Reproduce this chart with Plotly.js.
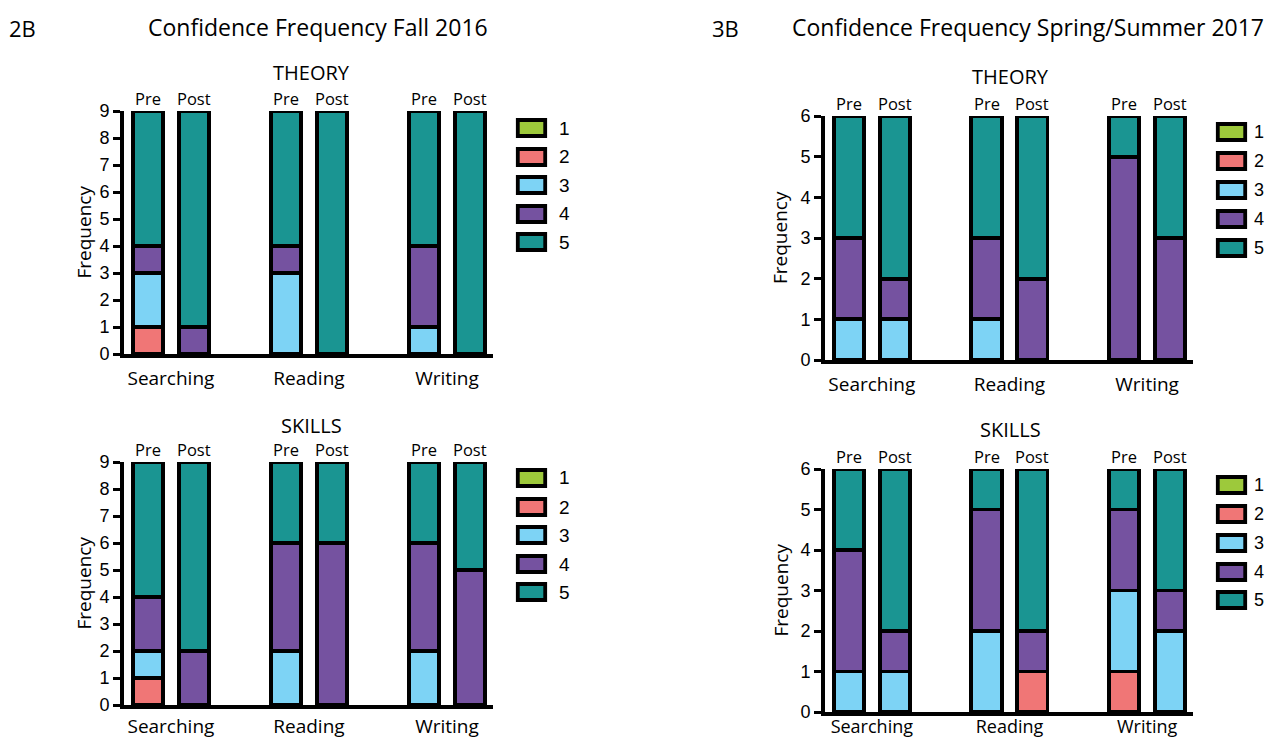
<!DOCTYPE html>
<html>
<head>
<meta charset="utf-8">
<script src="https://cdn.plot.ly/plotly-3.0.1.min.js"></script>
<style>html,body{margin:0;padding:0;background:#fff;}#chart{width:1267px;height:740px;}</style>
</head>
<body>
<div id="chart"></div>
<script>
// ---------- DATA ----------
const groups = ['Searching', 'Reading', 'Writing'];
const phases = ['Pre', 'Post'];
const levels = ['1', '2', '3', '4', '5'];
// each row = one confidence level (1..5); columns = S-Pre, S-Post, R-Pre, R-Post, W-Pre, W-Post
const fall2016Theory = [
  [0, 0, 0, 0, 0, 0],
  [1, 0, 0, 0, 0, 0],
  [2, 0, 3, 0, 1, 0],
  [1, 1, 1, 0, 3, 0],
  [5, 8, 5, 9, 5, 9]
];
const fall2016Skills = [
  [0, 0, 0, 0, 0, 0],
  [1, 0, 0, 0, 0, 0],
  [1, 0, 2, 0, 2, 0],
  [2, 2, 4, 6, 4, 5],
  [5, 7, 3, 3, 3, 4]
];
const spring2017Theory = [
  [0, 0, 0, 0, 0, 0],
  [0, 0, 0, 0, 0, 0],
  [1, 1, 1, 0, 0, 0],
  [2, 1, 2, 2, 5, 3],
  [3, 4, 3, 4, 1, 3]
];
const spring2017Skills = [
  [0, 0, 0, 0, 0, 0],
  [0, 0, 0, 1, 1, 0],
  [1, 1, 2, 0, 2, 2],
  [3, 1, 3, 1, 2, 1],
  [2, 4, 1, 4, 1, 3]
];
const yMaxFall = 9;
const yMaxSpring = 6;
const leftTitle = 'Confidence Frequency Fall 2016';
const rightTitle = 'Confidence Frequency Spring/Summer 2017';
const leftTag = '2B';
const rightTag = '3B';
const sectionNames = ['THEORY', 'SKILLS'];
const yTitle = 'Frequency';

// ---------- STYLE ----------
const levelColors = ['#9dc93b', '#f07676', '#7dd3f5', '#7552a0', '#1a9592'];
const W = 1267, H = 740;
const TXT = 'Open Sans, Noto Sans, sans-serif';
const NUM = 'Liberation Sans, Arial, sans-serif';
const px = v => v / W;
const py = v => 1 - v / H;

// panel geometry (pixels)
const panels = [
  {data: fall2016Theory,  ymax: yMaxFall,   x0: 124, x1: 493,  yTop: 111, yBot: 354, section: 0, sy: 72, sx: 311,
   leg: {x0: 516, x1: 547, ys: [128, 157, 185, 214, 242]}, yt: 83, lab: 558, labSize: 19, stand: 4, gsize: 19},
  {data: fall2016Skills,  ymax: yMaxFall,   x0: 124, x1: 493,  yTop: 462, yBot: 705, section: 1, sy: 425, sx: 311,
   leg: {x0: 516, x1: 547, ys: [478, 507, 535, 564, 592]}, yt: 83, lab: 558, labSize: 19, stand: 1, gsize: 19},
  {data: spring2017Theory, ymax: yMaxSpring, x0: 825, x1: 1193, yTop: 116, yBot: 360, section: 0, sy: 76, sx: 1011,
   leg: {x0: 1216, x1: 1247, ys: [132, 161, 190, 219, 248]}, yt: 780, lab: 1253, labSize: 18, stand: 4, gsize: 19},
  {data: spring2017Skills, ymax: yMaxSpring, x0: 825, x1: 1193, yTop: 469, yBot: 712, section: 1, sy: 430, sx: 1010,
   leg: {x0: 1216, x1: 1247, ys: [485, 514, 543, 572, 600]}, yt: 780, lab: 1253, labSize: 18, stand: -5, gsize: 18}
];

const traces = [];
const annotations = [];
const shapes = [];
const layout = {
  width: W, height: H,
  margin: {l: 0, r: 0, t: 0, b: 0},
  paper_bgcolor: '#fff', plot_bgcolor: 'rgba(0,0,0,0)',
  barmode: 'stack', bargap: 0,
  showlegend: false,
  font: {family: TXT, color: '#000'}
};

// x positions derived from group / phase indices
const xs = [];
const xlabels = [];
groups.forEach((g, gi) => phases.forEach((p, pi) => { xs.push(gi * 3 + pi); xlabels.push(p); }));
const groupCenters = groups.map((g, gi) => gi * 3 + 0.5);

panels.forEach((P, k) => {
  const n = k + 1;
  const xa = 'x' + (n === 1 ? '' : n);
  const ya = 'y' + (n === 1 ? '' : n);
  const xkey = 'xaxis' + (n === 1 ? '' : n);
  const ykey = 'yaxis' + (n === 1 ? '' : n);
  levels.forEach((lv, li) => {
    traces.push({
      type: 'bar', x: xs, y: P.data[li], xaxis: xa, yaxis: ya, name: lv,
      width: 0.66, cliponaxis: false,
      marker: {color: levelColors[li], line: {color: '#000', width: 3.8}}
    });
  });
  layout[xkey] = {
    domain: [px(P.x0), px(P.x1)], anchor: ya, range: [-0.52, 7.5],
    showline: true, linecolor: '#000', linewidth: 4, mirror: false,
    showgrid: false, zeroline: false, ticks: '',
    tickvals: groupCenters, ticktext: groups, ticklabelstandoff: P.stand,
    tickfont: {family: TXT, size: P.gsize, color: '#000'}, fixedrange: true
  };
  layout[ykey] = {
    domain: [py(P.yBot), py(P.yTop)], anchor: xa, range: [0, P.ymax], dtick: 1,
    showline: true, linecolor: '#000', linewidth: 4,
    showgrid: false, zeroline: false, ticks: 'outside', ticklen: 7, tickwidth: 3, tickcolor: '#000',
    ticklabelstandoff: 0,
    tickfont: {family: NUM, size: 18, color: '#000'}, fixedrange: true
  };
  // Pre / Post labels above each bar
  xs.forEach((xv, i) => {
    annotations.push({xref: xa, yref: ya, x: xv, y: P.ymax, yanchor: 'bottom', yshift: -1,
      text: xlabels[i], showarrow: false, font: {family: TXT, size: 16.5, color: '#000'}});
  });
  // section title
  annotations.push({xref: 'paper', yref: 'paper', x: px(P.sx), y: py(P.sy),
    text: sectionNames[P.section], showarrow: false, xanchor: 'center', yanchor: 'middle',
    font: {family: TXT, size: 20, color: '#000'}});
  // y axis title
  annotations.push({xref: 'paper', yref: 'paper', x: px(P.yt), y: py((P.yTop + P.yBot) / 2),
    text: yTitle, textangle: -90, showarrow: false, xanchor: 'center', yanchor: 'middle',
    font: {family: TXT, size: 19, color: '#000'}});
  // legend
  levels.forEach((lv, li) => {
    const yc = P.leg.ys[li];
    shapes.push({type: 'rect', xref: 'paper', yref: 'paper',
      x0: px(P.leg.x0 + 1.8), x1: px(P.leg.x1 - 1.8), y0: py(yc + 8), y1: py(yc - 8),
      fillcolor: levelColors[li], line: {color: '#000', width: 3.8}});
    annotations.push({xref: 'paper', yref: 'paper', x: px(P.lab), y: py(yc), text: lv,
      showarrow: false, xanchor: 'left', yanchor: 'middle', borderpad: 0,
      font: {family: NUM, size: P.labSize, color: '#000'}});
  });
});

// figure titles
annotations.push({xref: 'paper', yref: 'paper', x: px(318), y: py(27), text: leftTitle, showarrow: false,
  xanchor: 'center', yanchor: 'middle', font: {family: TXT, size: 23, color: '#000'}});
annotations.push({xref: 'paper', yref: 'paper', x: px(1028), y: py(27), text: rightTitle, showarrow: false,
  xanchor: 'center', yanchor: 'middle', font: {family: TXT, size: 23, color: '#000'}});
annotations.push({xref: 'paper', yref: 'paper', x: px(7), y: py(28), text: leftTag, showarrow: false,
  xanchor: 'left', yanchor: 'middle', font: {family: TXT, size: 22, color: '#000'}});
annotations.push({xref: 'paper', yref: 'paper', x: px(710), y: py(28), text: rightTag, showarrow: false,
  xanchor: 'left', yanchor: 'middle', font: {family: TXT, size: 22, color: '#000'}});

layout.annotations = annotations;
layout.shapes = shapes;

Plotly.newPlot('chart', traces, layout, {displayModeBar: false, staticPlot: true});
</script>
</body>
</html>
